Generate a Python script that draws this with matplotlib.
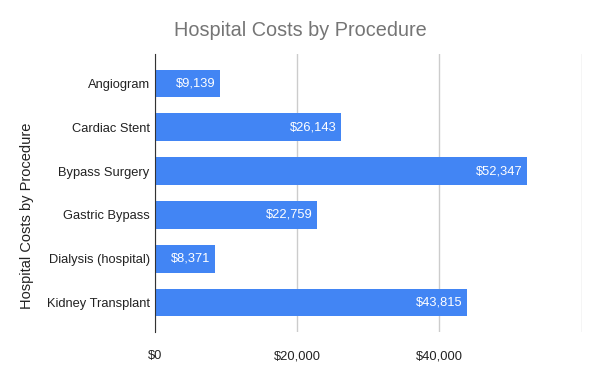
import matplotlib
matplotlib.use("Agg")
import matplotlib.pyplot as plt

procedures = ["Angiogram", "Cardiac Stent", "Bypass Surgery", "Gastric Bypass",
              "Dialysis (hospital)", "Kidney Transplant"]
costs = [9139, 26143, 52347, 22759, 8371, 43815]
xticks = [0, 20000, 40000, 60000]
xtick_labels = ["$0", "$20,000", "$40,000", ""]

plt.rcParams['font.family'] = ['Liberation Sans', 'DejaVu Sans']

fig = plt.figure(figsize=(6, 3.71), dpi=100)
ax = fig.add_axes([0.2588, 0.1051, 0.7104, 0.7493])

ypos = list(range(len(procedures)))
ax.barh(ypos, costs, height=0.63, color="#4285f4", zorder=3)

for y, v in zip(ypos, costs):
    ax.text(v - 600, y, "${:,}".format(v), color="white", fontsize=9.3,
            ha="right", va="center", zorder=4)

ax.set_xlim(0, 60000)
ax.set_ylim(5.67, -0.67)
ax.set_yticks(ypos)
ax.set_yticklabels(procedures, fontsize=9.3, color="#222222")
ax.set_xticks(xticks)
ax.set_xticklabels(xtick_labels, fontsize=9.3, color="#222222")
ax.tick_params(length=0, pad=4)
ax.tick_params(axis="x", pad=13)
ax.grid(axis="x", color="#cccccc", linewidth=1, zorder=0)
for s in ["top", "right", "bottom"]:
    ax.spines[s].set_visible(False)
ax.spines["left"].set_color("#333333")
ax.spines["left"].set_zorder(5)

fig.text(0.5, 1 - 31 / 371, "Hospital Costs by Procedure", ha="center", va="center",
         fontsize=14.3, color="#757575")
fig.text(27 / 600, 1 - 216 / 371, "Hospital Costs by Procedure", rotation=90,
         ha="center", va="center", fontsize=10.5, color="#222222")

fig.savefig("out.png", dpi=100)
